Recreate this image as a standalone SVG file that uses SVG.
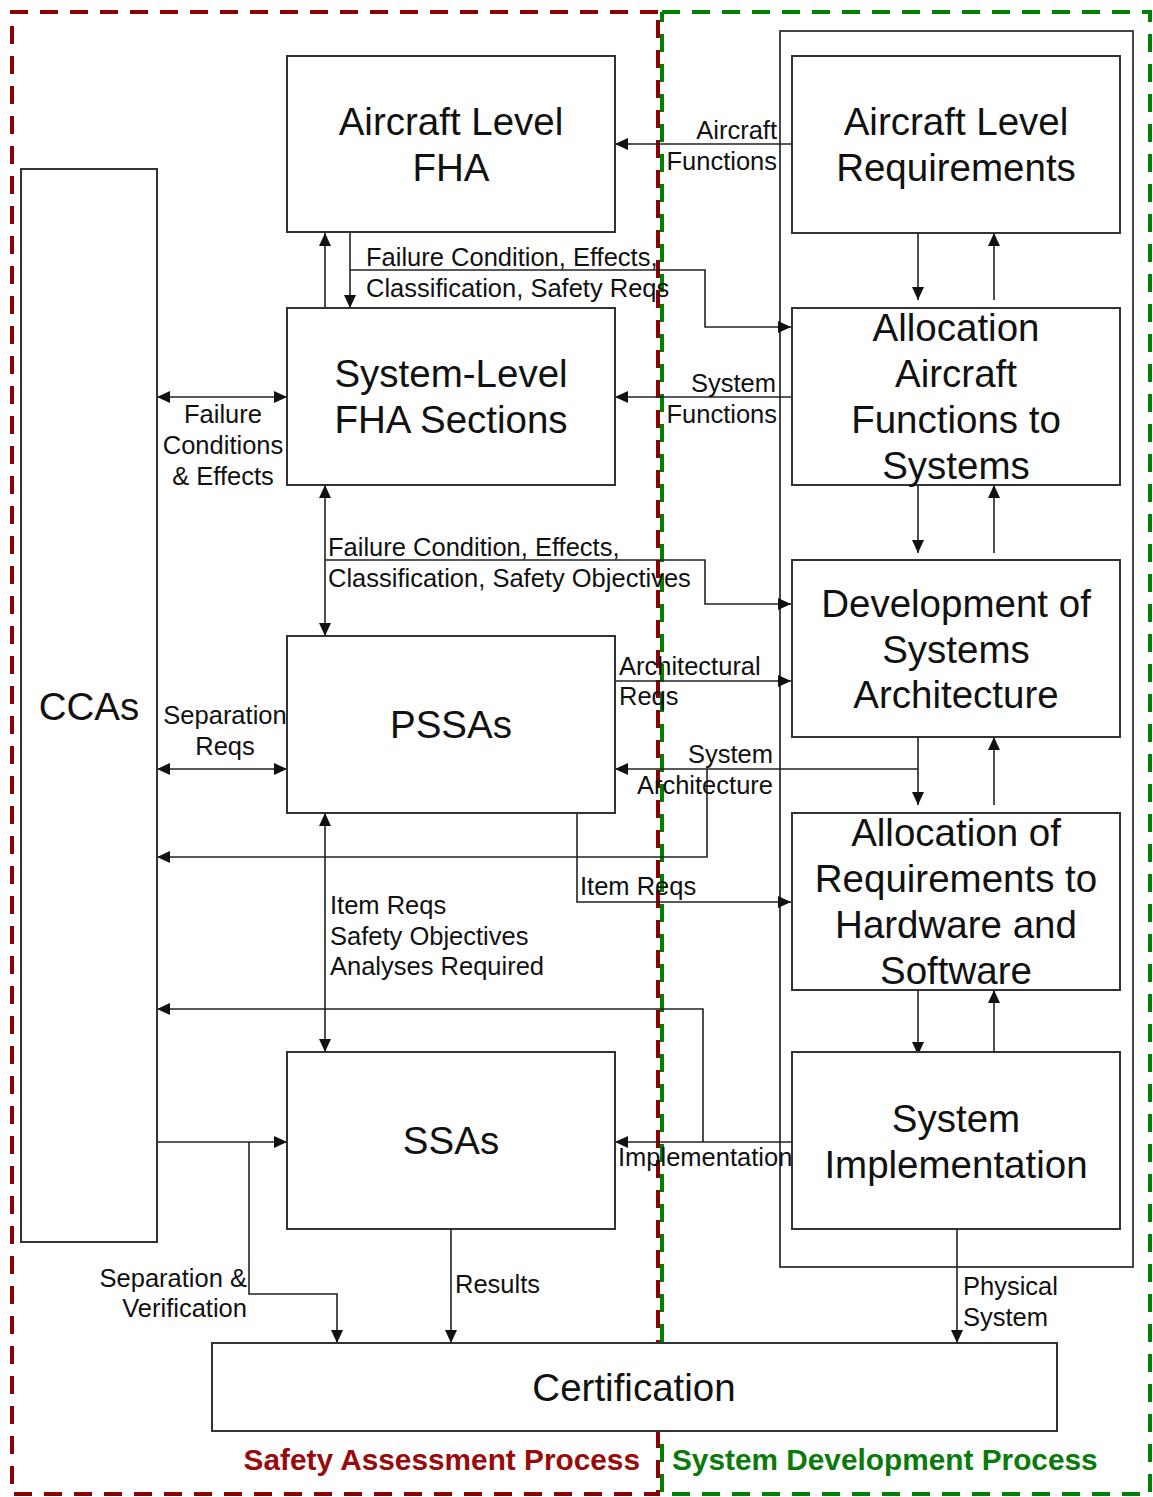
<svg xmlns="http://www.w3.org/2000/svg" width="1153" height="1497" viewBox="0 0 1153 1497">
<defs>
<marker id="ah" markerUnits="userSpaceOnUse" markerWidth="14" markerHeight="13" refX="13" refY="6.5" orient="auto-start-reverse">
<path d="M0,0.5 L13,6.5 L0,12.5 z" fill="#111"/>
</marker>
<style>
.box{fill:#fff;stroke:#333;stroke-width:2}
.cont{fill:none;stroke:#333;stroke-width:1.8}
.ln{fill:none;stroke:#222;stroke-width:1.6}
.a{marker-end:url(#ah)}
.b{marker-start:url(#ah);marker-end:url(#ah)}
.big{font-family:"Liberation Sans",Arial,sans-serif;font-size:38.5px;fill:#111;text-anchor:middle}
.sm{font-family:"Liberation Sans",Arial,sans-serif;font-size:25.5px;fill:#111}
.e{text-anchor:end}
.m{text-anchor:middle}
.red{fill:none;stroke:#8b0000;stroke-width:4;stroke-dasharray:18 12}
.grn{fill:none;stroke:#008000;stroke-width:4;stroke-dasharray:18 12}
.ttl{font-family:"Liberation Sans",Arial,sans-serif;font-size:29.8px;font-weight:bold}
</style>
</defs>
<rect width="1153" height="1497" fill="#fff"/>

<g id="regions">
<path class="red" d="M658,12 H12 V1494 H658 V12"/>
<path class="grn" d="M662,12 H1150 V1494 H662 V12"/>
<text class="ttl" x="640" y="1470" text-anchor="end" fill="#990a0a">Safety Assessment Process</text>
<text class="ttl" x="672" y="1470" fill="#0a7a0a">System Development Process</text>
</g>

<g id="sysdev-container"><rect class="cont" x="780" y="31" width="353" height="1236"/></g>

<g id="connectors">
<path class="ln a" d="M791,144 H615"/>
<path class="ln a" d="M325,308 V233"/>
<path class="ln a" d="M350,233 V308"/>
<path class="ln a" d="M350,270 H705 V327 H791"/>
<path class="ln a" d="M918,233 V300"/>
<path class="ln a" d="M994,300 V233"/>
<path class="ln a" d="M791,397 H615"/>
<path class="ln b" d="M157,397 H287"/>
<path class="ln b" d="M325,485 V636"/>
<path class="ln a" d="M325,560 H705 V604 H791"/>
<path class="ln a" d="M918,485 V553"/>
<path class="ln a" d="M994,553 V485"/>
<path class="ln a" d="M615,681 H791"/>
<path class="ln a" d="M918,737 V805"/>
<path class="ln a" d="M994,805 V737"/>
<path class="ln a" d="M918,769 H615"/>
<path class="ln a" d="M707,769 V857 H157"/>
<path class="ln b" d="M157,769 H287"/>
<path class="ln a" d="M577,813 V902 H791"/>
<path class="ln b" d="M325,813 V1052"/>
<path class="ln a" d="M918,990 V1055"/>
<path class="ln a" d="M994,1055 V990"/>
<path class="ln a" d="M791,1142 H615"/>
<path class="ln a" d="M703,1142 V1009 H157"/>
<path class="ln a" d="M157,1142 H287"/>
<path class="ln a" d="M249,1142 V1294 H337 V1343"/>
<path class="ln a" d="M451,1229 V1343"/>
<path class="ln a" d="M957,1229 V1343"/>
</g>

<g id="connector-labels">
<text class="sm e" x="777" y="139">Aircraft</text>
<text class="sm e" x="777" y="170">Functions</text>
<text class="sm" x="366" y="266">Failure Condition, Effects,</text>
<text class="sm" x="366" y="297">Classification, Safety Reqs</text>
<text class="sm e" x="776" y="392">System</text>
<text class="sm e" x="777" y="423">Functions</text>
<text class="sm m" x="223" y="423">Failure</text>
<text class="sm m" x="223" y="454">Conditions</text>
<text class="sm m" x="223" y="485">&amp; Effects</text>
<text class="sm" x="328" y="556">Failure Condition, Effects,</text>
<text class="sm" x="328" y="587">Classification, Safety Objectives</text>
<text class="sm" x="619" y="675">Architectural</text>
<text class="sm" x="619" y="705">Reqs</text>
<text class="sm m" x="225" y="724">Separation</text>
<text class="sm m" x="225" y="755">Reqs</text>
<text class="sm e" x="773" y="763">System</text>
<text class="sm e" x="773" y="794">Architecture</text>
<text class="sm" x="580" y="895">Item Reqs</text>
<text class="sm" x="330" y="914">Item Reqs</text>
<text class="sm" x="330" y="945">Safety Objectives</text>
<text class="sm" x="330" y="975">Analyses Required</text>
<text class="sm" x="618" y="1166">Implementation</text>
<text class="sm e" x="247" y="1287">Separation &amp;</text>
<text class="sm e" x="247" y="1317">Verification</text>
<text class="sm" x="455" y="1293">Results</text>
<text class="sm" x="963" y="1295">Physical</text>
<text class="sm" x="963" y="1326">System</text>
</g>

<g id="ccas"><rect class="box" x="21" y="169" width="136" height="1073"/><text class="big" x="89" y="720">CCAs</text></g>
<g id="aircraft-fha"><rect class="box" x="287" y="56" width="328" height="176"/><text class="big" x="451" y="135">Aircraft Level</text><text class="big" x="451" y="181">FHA</text></g>
<g id="system-fha"><rect class="box" x="287" y="308" width="328" height="177"/><text class="big" x="451" y="387">System-Level</text><text class="big" x="451" y="433">FHA Sections</text></g>
<g id="pssas"><rect class="box" x="287" y="636" width="328" height="177"/><text class="big" x="451" y="738">PSSAs</text></g>
<g id="ssas"><rect class="box" x="287" y="1052" width="328" height="177"/><text class="big" x="451" y="1154">SSAs</text></g>
<g id="aircraft-req"><rect class="box" x="792" y="56" width="328" height="177"/><text class="big" x="956" y="135">Aircraft Level</text><text class="big" x="956" y="181">Requirements</text></g>
<g id="alloc-functions"><rect class="box" x="792" y="308" width="328" height="177"/><text class="big" x="956" y="341">Allocation</text><text class="big" x="956" y="387">Aircraft</text><text class="big" x="956" y="433">Functions to</text><text class="big" x="956" y="479">Systems</text></g>
<g id="dev-arch"><rect class="box" x="792" y="560" width="328" height="177"/><text class="big" x="956" y="617">Development of</text><text class="big" x="956" y="663">Systems</text><text class="big" x="956" y="708">Architecture</text></g>
<g id="alloc-hwsw"><rect class="box" x="792" y="813" width="328" height="177"/><text class="big" x="956" y="846">Allocation of</text><text class="big" x="956" y="892">Requirements to</text><text class="big" x="956" y="938">Hardware and</text><text class="big" x="956" y="984">Software</text></g>
<g id="sys-impl"><rect class="box" x="792" y="1052" width="328" height="177"/><text class="big" x="956" y="1132">System</text><text class="big" x="956" y="1178">Implementation</text></g>
<g id="certification"><rect class="box" x="212" y="1343" width="845" height="88"/><text class="big" x="634" y="1401">Certification</text></g>
</svg>
